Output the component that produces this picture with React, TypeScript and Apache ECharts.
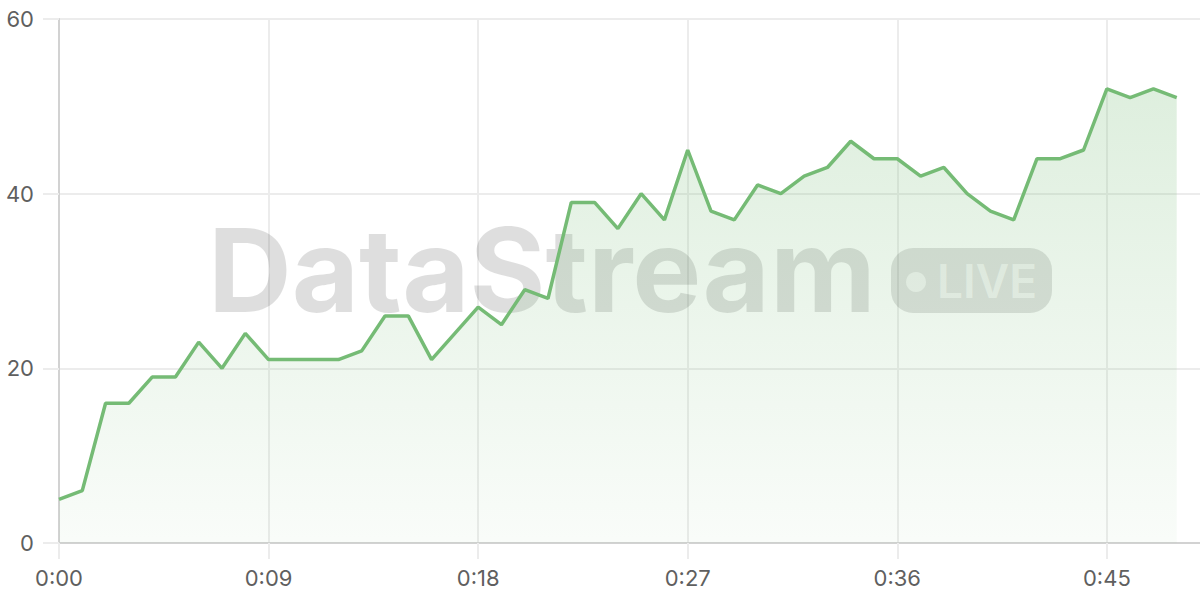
import React, { useEffect, useRef } from "react";
import * as echarts from "echarts";

const seconds: string[] = [
  "0:00","0:01","0:02","0:03","0:04","0:05","0:06","0:07","0:08","0:09",
  "0:10","0:11","0:12","0:13","0:14","0:15","0:16","0:17","0:18","0:19",
  "0:20","0:21","0:22","0:23","0:24","0:25","0:26","0:27","0:28","0:29",
  "0:30","0:31","0:32","0:33","0:34","0:35","0:36","0:37","0:38","0:39",
  "0:40","0:41","0:42","0:43","0:44","0:45","0:46","0:47","0:48","0:49",
];

const values: number[] = [
  5, 6, 16, 16, 19, 19, 23, 20, 24, 21,
  21, 21, 21, 22, 26, 26, 21, 24, 27, 25,
  29, 28, 39, 39, 36, 40, 37, 45, 38, 37,
  41, 40, 42, 43, 46, 44, 44, 42, 43, 40,
  38, 37, 44, 44, 45, 52, 51, 52, 51,
];

const yTicks = { min: 0, max: 60, interval: 20 };
const watermarkTitle = "DataStream";
const watermarkBadge = "LIVE";

export default function App() {
  const ref = useRef<HTMLDivElement>(null);

  useEffect(() => {
    if (!ref.current) return;
    const chart = echarts.init(ref.current, undefined, { renderer: "svg" });
    const font = "Inter, 'Noto Sans', sans-serif";
    chart.setOption({
      animation: false,
      backgroundColor: "#ffffff",
      grid: { left: 59, right: 0, top: 19, bottom: 57, containLabel: false },
      xAxis: {
        type: "category",
        data: seconds,
        boundaryGap: false,
        axisLine: { show: true, lineStyle: { color: "#d2d2d2", width: 2 } },
        axisTick: { show: true, interval: 8, length: 16, lineStyle: { color: "#ececec", width: 2 } },
        axisLabel: { interval: 8, margin: 24, fontSize: 22, color: "#5f5f5f", fontFamily: font },
        splitLine: { show: true, interval: 8, lineStyle: { color: "#ececec", width: 2 } },
      },
      yAxis: {
        type: "value",
        min: yTicks.min,
        max: yTicks.max,
        interval: yTicks.interval,
        axisLine: { show: true, lineStyle: { color: "#d2d2d2", width: 2 } },
        axisTick: { show: true, length: 16, lineStyle: { color: "#ececec", width: 2 } },
        axisLabel: { margin: 25, fontSize: 22, color: "#5f5f5f", fontFamily: font },
        splitLine: { show: true, lineStyle: { color: "#ececec", width: 2 } },
      },
      graphic: [
        {
          type: "text",
          z: 1,
          style: {
            x: 208,
            y: 270,
            text: watermarkTitle,
            font: "bold 116px Inter, 'Noto Sans', sans-serif",
            fill: "rgba(0,0,0,0.13)",
            textAlign: "left",
            textVerticalAlign: "middle",
          },
        },
        {
          type: "rect",
          z: 1,
          shape: { x: 891, y: 248, width: 161, height: 65, r: 22 },
          style: { fill: "rgba(0,0,0,0.12)" },
        },
        {
          type: "circle",
          z: 2,
          shape: { cx: 916, cy: 282, r: 10 },
          style: { fill: "rgba(255,255,255,0.6)" },
        },
        {
          type: "text",
          z: 2,
          style: {
            x: 937,
            y: 281,
            text: watermarkBadge,
            font: "600 46px Inter, 'Noto Sans', sans-serif",
            fill: "rgba(255,255,255,0.62)",
            textAlign: "left",
            textVerticalAlign: "middle",
          },
        },
      ],
      series: [
        {
          type: "line",
          data: values,
          z: 5,
          showSymbol: false,
          symbol: "none",
          lineStyle: { color: "#75bb75", width: 3.5 },
          itemStyle: { color: "#75bb75" },
          areaStyle: {
            color: new echarts.graphic.LinearGradient(0, 0, 0, 1, [
              { offset: 0, color: "rgba(117,187,117,0.34)" },
              { offset: 1, color: "rgba(117,187,117,0.06)" },
            ]),
          },
        },
      ],
    });
    return () => chart.dispose();
  }, []);

  return (
    <div
      ref={ref}
      style={{ position: "fixed", left: 0, top: 0, width: 1200, height: 600 }}
    />
  );
}
